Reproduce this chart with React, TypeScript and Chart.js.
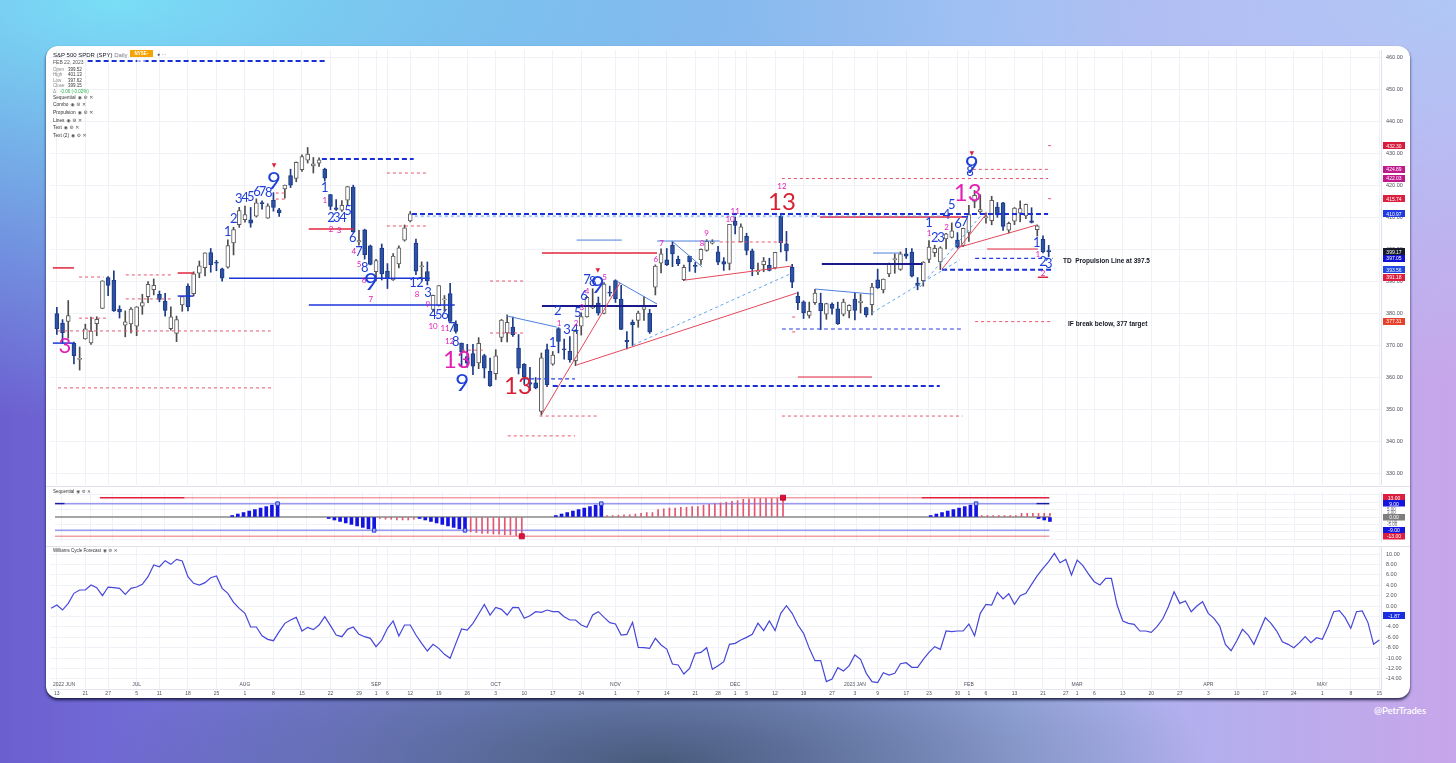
import React, { useEffect, useRef } from "react";
import { Chart, registerables } from "chart.js";

Chart.register(...registerables);

// ---------------- time axis (trading-day index, 0 = 2022-06-13) ----------------
const X_MIN = -1.2;
const X_MAX = 232.3;
const dayTickIdx = [0,5,9,14,18,23,28,33,38,43,48,53,56,58,62,67,72,77,82,87,92,98,102,107,112,116,119,121,126,131,136,140,144,149,153,158,160,163,168,173,177,179,182,187,192,197,202,207,212,217,222,227,232];
const dayTickLabels = ["13","21","27","5","11","18","25","1","8","15","22","29","1","6","12","19","26","3","10","17","24","1","7","14","21","28","1","5","12","19","27","3","9","17","23","30","1","6","13","21","27","1","6","13","20","27","3","10","17","24","1","8","15"];
const monthIdx = [0,14,33,56,77,98,119,140,160,179,202,222];
const monthLabels = ["2022 JUN","JUL","AUG","SEP","OCT","NOV","DEC","2023 JAN","FEB","MAR","APR","MAY"];

// ---------------- SPY daily OHLC ----------------
const opens = [
379.85,376.85,377.36,370.51,365.51,371.89,370.62,376.64,381.40,391.05,
390.23,381.23,376.24,376.56,375.88,382.11,385.12,387.27,385.85,383.65,
375.10,373.61,382.55,388.38,386.08,392.47,394.16,398.92,395.75,393.84,
394.36,401.89,407.58,409.15,409.12,410.30,414.37,409.66,415.25,412.22,
418.78,422.99,422.03,424.77,427.73,425.98,426.86,424.98,417.05,412.90,
412.11,415.24,419.39,402.20,406.00,401.00,392.89,400.28,393.13,390.37,
395.34,402.74,408.78,401.83,394.47,392.96,381.15,382.26,384.09,386.11,
376.58,370.58,366.41,367.36,364.38,366.69,361.80,361.08,372.40,373.76,
375.62,368.97,363.96,358.24,358.17,349.21,368.55,364.01,375.13,368.74,
368.03,365.12,375.89,378.79,381.62,383.07,379.87,386.44,390.14,384.37,
371.47,377.07,377.71,381.11,379.93,388.05,395.59,396.66,401.15,396.78,
390.46,397.74,394.64,396.63,399.55,401.83,399.09,396.05,395.49,408.77,
402.25,403.95,399.42,392.94,395.14,394.94,394.11,410.22,401.61,394.30,
385.18,383.47,379.23,383.25,383.05,379.65,382.79,381.33,379.63,380.64,
384.37,383.18,381.72,382.61,390.37,387.25,392.23,396.67,393.62,398.48,
399.01,389.36,390.10,396.72,398.88,395.95,403.13,403.66,402.80,401.13,
405.21,414.86,411.59,409.79,408.87,413.13,414.41,405.86,408.72,411.24,
410.35,408.79,406.06,403.06,399.52];
const highs = [
381.81,377.94,383.90,370.94,369.38,376.53,378.72,378.83,390.09,391.36,
393.16,382.27,380.66,381.70,381.98,385.87,389.83,390.64,386.87,386.16,
381.92,379.05,385.25,389.09,392.87,396.26,398.84,400.18,396.47,394.06,
402.88,406.80,413.03,413.41,413.00,415.68,415.09,414.15,417.62,412.75,
420.00,424.95,427.21,429.40,431.73,428.61,428.49,425.26,417.10,415.42,
415.11,419.56,419.96,405.84,406.22,401.24,396.78,401.56,395.44,398.59,
401.00,407.51,411.73,403.10,396.00,395.96,385.62,388.55,385.46,389.31,
377.57,370.62,370.21,370.22,372.30,367.11,365.91,368.55,378.00,379.46,
378.72,373.29,364.21,363.03,359.82,367.51,370.26,367.98,375.45,371.85,
372.67,374.80,380.06,385.25,387.58,385.00,389.52,388.40,390.39,388.63,
374.20,377.83,380.57,385.12,381.14,395.04,400.09,400.18,402.31,397.78,
394.95,397.81,395.82,400.07,402.93,402.91,400.81,397.30,407.68,410.00,
407.86,404.93,399.99,395.64,397.36,397.11,398.99,410.49,405.50,395.25,
386.58,383.82,383.40,387.41,386.21,383.06,383.15,383.39,384.35,382.58,
386.43,385.88,381.84,389.25,393.70,390.65,395.60,398.49,399.10,400.23,
400.12,391.08,396.04,402.65,401.15,400.70,404.92,408.16,405.13,406.53,
413.67,418.31,416.97,411.29,416.49,414.53,414.57,408.44,412.97,415.05,
414.06,412.91,407.51,404.16,401.13];
const lows = [
373.30,370.59,372.12,364.08,362.17,371.81,370.18,372.89,381.37,385.45,
380.53,378.42,372.56,373.80,372.90,379.60,383.27,385.66,383.50,378.99,
374.66,371.04,380.54,380.66,385.39,391.03,391.63,392.75,393.21,389.95,
394.05,398.15,406.77,408.40,406.82,410.00,412.44,409.60,411.83,410.22,
415.88,419.21,421.03,424.28,426.87,423.77,425.84,421.22,412.30,412.06,
411.77,413.61,405.25,401.20,396.85,395.04,390.04,390.33,387.66,390.20,
394.11,402.46,408.46,391.96,390.24,388.78,380.50,382.18,380.66,377.38,
373.69,363.29,363.03,360.72,362.60,359.70,357.04,359.21,371.00,370.95,
372.68,360.94,357.67,355.71,356.30,348.11,356.96,363.69,367.52,365.55,
364.61,363.54,373.11,378.67,381.35,379.33,379.68,385.26,383.29,374.76,
368.79,369.87,375.53,377.72,373.61,385.64,392.53,394.83,394.49,394.79,
390.14,393.04,392.66,395.15,399.31,401.54,395.11,393.30,393.48,404.75,
402.14,398.17,391.64,391.97,392.89,393.14,393.80,399.07,396.31,387.89,
381.04,378.28,378.43,382.66,374.77,378.03,379.65,376.42,379.08,378.43,
377.83,380.00,378.76,379.41,387.67,386.27,391.38,392.42,393.34,397.06,
391.28,387.26,388.38,395.72,397.64,393.56,400.03,403.44,400.28,400.77,
402.35,412.88,411.09,408.10,407.57,409.93,405.81,405.01,407.62,408.51,
409.47,408.14,404.05,398.82,397.62];
const closes = [
375.00,373.87,379.20,366.65,365.86,375.07,374.39,378.06,390.08,388.59,
380.65,380.34,377.25,381.24,381.96,383.25,388.99,388.67,384.23,380.83,
378.83,377.91,385.13,381.95,392.27,394.77,398.79,395.09,395.57,390.89,
401.04,406.07,411.99,410.77,408.06,414.45,414.17,413.47,412.99,411.35,
419.99,419.99,427.10,428.86,429.70,426.65,427.89,422.14,413.35,412.35,
413.67,419.51,405.31,402.63,398.21,395.18,396.42,392.24,390.76,397.78,
400.38,406.60,410.97,393.10,394.60,390.12,385.56,388.55,384.09,377.39,
374.22,367.95,364.31,363.38,370.53,362.79,357.18,366.61,377.76,377.09,
373.20,362.79,360.02,357.74,356.56,365.97,357.63,366.82,371.13,368.50,
365.41,374.29,378.87,384.92,382.02,379.98,389.02,386.21,384.52,374.87,
371.01,376.35,379.95,382.00,374.13,394.69,398.51,395.12,398.49,395.45,
394.24,396.03,394.59,399.90,402.42,402.33,395.91,395.23,407.68,407.38,
406.91,399.59,393.83,393.16,396.24,393.28,398.95,401.97,399.40,389.63,
383.27,380.02,380.54,386.23,380.72,382.91,381.40,376.66,383.44,382.43,
380.82,383.76,379.38,388.08,387.86,390.58,395.52,396.96,398.50,397.77,
391.49,388.64,395.88,400.63,400.20,400.35,404.75,405.68,400.59,406.48,
410.80,416.78,412.35,409.83,415.19,410.65,407.09,408.04,412.83,412.64,
413.98,408.28,407.26,399.09,399.17];

// main price axis
const mainTickVals = [330,340,350,360,370,380,390,400,410,420,430,440,450,460];
const mainBadgeVals = [432.30,424.89,422.03,415.74,410.97,399.17,397.05,393.56,391.18,377.31];
const mainBadgeColors = ["#d81b3c","#c0198c","#c0198c","#dd1f3f","#1e3ae0","#161a2a","#1010d0","#1f48e0","#dd1f3f","#e6412a"];

// TD lines: [startIdx, startPrice, endIdx, endPrice, style]
const tdLines: [number, number, number, number, string][] = [
  [5.4,458.75,47.0,458.75,"A"],
  [-0.7,394.1,3.0,394.1,"D"],
  [-0.7,370.6,3.0,370.6,"C"],
  [3.9,391.25,8.2,391.25,"B"],
  [3.9,378.4,8.6,378.4,"B"],
  [12.1,391.9,20.4,391.9,"B"],
  [12.1,384.4,20.4,384.4,"B"],
  [0.2,374.4,37.5,374.4,"B"],
  [0.2,356.6,38.1,356.6,"B"],
  [21.2,392.5,24.0,392.5,"D"],
  [21.2,385.3,24.0,385.3,"C"],
  [30.2,390.9,65.4,390.9,"C"],
  [44.2,382.5,69.8,382.5,"C"],
  [44.2,406.25,52.1,406.25,"D"],
  [46.5,428.1,62.6,428.1,"A"],
  [38.4,417.5,40.2,417.5,"B"],
  [38.4,415.6,40.2,415.6,"B"],
  [57.9,423.75,65.1,423.75,"B"],
  [57.9,407.2,65.1,407.2,"B"],
  [62.3,410.97,173.9,410.97,"A"],
  [62.8,410.3,154.9,410.3,"F"],
  [76.0,390.0,81.8,390.0,"B"],
  [76.0,373.75,81.8,373.75,"B"],
  [71.1,368.4,74.7,368.4,"B"],
  [78.9,379.1,87.7,375.6,"E"],
  [81.8,359.4,90.9,359.4,"Ab"],
  [87.0,357.2,154.9,357.2,"A"],
  [84.7,347.8,95.1,347.8,"B"],
  [79.1,341.6,90.9,341.6,"B"],
  [85.1,348.4,98.8,389.4,"H"],
  [91.2,363.75,129.8,386.25,"H"],
  [85.1,382.2,105.3,382.2,"G"],
  [85.1,398.75,105.3,398.75,"D"],
  [91.2,402.8,99.1,402.8,"E"],
  [98.2,390.0,105.3,382.8,"E"],
  [101.1,370.0,129.0,392.5,"F"],
  [105.3,402.5,116.3,402.5,"E"],
  [108.1,402.2,113.2,394.4,"E"],
  [110.2,390.3,129.0,394.7,"H"],
  [116.3,402.2,128.1,402.2,"B"],
  [127.2,422.03,173.9,422.03,"B"],
  [133.9,410.0,159.6,410.0,"D"],
  [134.2,395.3,151.9,395.3,"G"],
  [143.2,398.75,147.9,398.75,"E"],
  [133.0,387.5,143.2,385.9,"E"],
  [127.2,375.0,158.9,375.0,"Ab"],
  [130.0,360.0,143.0,360.0,"Dt"],
  [127.2,347.8,158.9,347.8,"B"],
  [129.0,378.75,130.0,378.75,"B"],
  [129.0,374.1,130.0,374.1,"B"],
  [143.0,380.0,158.4,396.6,"F"],
  [151.4,388.1,162.5,411.25,"F"],
  [161.1,397.05,174.7,397.05,"Ab"],
  [155.3,393.56,174.7,393.56,"A"],
  [161.1,377.31,174.7,377.31,"B"],
  [172.1,391.18,173.9,391.18,"D"],
  [163.2,400.0,172.1,400.0,"Dt"],
  [155.3,393.75,163.2,411.25,"H"],
  [158.4,400.6,171.9,407.5,"H"],
  [160.7,424.89,174.2,424.89,"B"],
  [173.9,432.30,174.7,432.30,"B"],
  [173.9,415.74,174.7,415.74,"B"],
];
const lineStyles: Record<string, { color: string; width: number; dash: number[] }> = {
  A: { color: "#1b2fd6", width: 2, dash: [5, 3] },
  Ab: { color: "#2b3fe0", width: 1.2, dash: [4, 3] },
  B: { color: "#e8566e", width: 1, dash: [3, 3] },
  C: { color: "#1c34d8", width: 1.5, dash: [] },
  D: { color: "#e2243c", width: 1.5, dash: [] },
  Dt: { color: "#e2243c", width: 1, dash: [] },
  E: { color: "#4d7fdc", width: 1, dash: [] },
  F: { color: "#62a2ee", width: 1, dash: [3, 3] },
  G: { color: "#1a1a8c", width: 2, dash: [] },
  H: { color: "#e3485a", width: 1, dash: [] },
};

// TD sequential labels: [idx, price, text, style]
const tdLabels: [number, number, string, string][] = [
  [1.4,369.7,"3","M2"],
  [30.0,405.3,"1","b"],[31.05,409.4,"2","b"],[31.9,415.6,"3","b"],[33.0,415.9,"4","b"],[34.0,416.25,"5","b"],
  [35.1,417.8,"6","b"],[36.1,417.8,"7","b"],[37.2,417.5,"8","b"],[38.1,421.25,"9","B"],[38.1,426.25,"▼","r"],
  [47.0,419.1,"1","b"],[48.1,409.7,"2","b"],[49.1,409.7,"3","b"],[50.2,409.7,"4","b"],[51.1,411.9,"5","b"],
  [51.9,403.4,"6","b"],[53.0,399.1,"7","b"],[54.0,394.1,"8","b"],[55.1,389.7,"9","B"],
  [47.0,415.3,"1","m"],[48.1,406.25,"2","m"],[49.5,405.9,"3","m"],[52.1,399.4,"4","m"],[53.0,395.3,"5","m"],
  [53.9,390.3,"6","m"],[55.1,384.4,"7","m"],[63.2,385.9,"8","m"],[65.1,382.8,"9","m"],[66.0,375.9,"10","m"],
  [68.1,375.3,"11","m"],[68.9,371.25,"12","m"],[70.2,365.3,"13","M"],
  [62.5,389.4,"1","b"],[63.7,389.4,"2","b"],[65.1,386.25,"3","b"],[66.0,379.4,"4","b"],[67.0,379.4,"5","b"],
  [68.1,379.4,"6","b"],[69.3,375.3,"7","b"],[70.0,370.9,"8","b"],[71.1,358.1,"9","B"],
  [80.9,357.2,"13","R"],
  [87.0,370.6,"1","b"],[87.9,380.6,"2","b"],[89.5,374.7,"3","b"],[90.9,374.7,"4","b"],[91.4,380.0,"5","b"],
  [92.5,385.3,"6","b"],[93.0,390.3,"7","b"],[94.0,389.7,"8","b"],[94.9,388.75,"9","B"],[94.9,393.4,"▼","r"],
  [88.1,376.9,"1","m"],[91.1,376.6,"2","m"],[92.1,381.9,"3","m"],[93.0,386.9,"4","m"],[96.1,391.25,"5","m"],
  [105.1,396.9,"6","m"],[106.1,401.6,"7","m"],[113.2,401.6,"8","m"],[114.0,405.0,"9","m"],[118.1,409.4,"10","m"],
  [119.0,411.9,"11","m"],[127.2,419.7,"12","m"],[127.2,414.7,"13","R"],
  [153.0,408.1,"1","b"],[154.0,403.4,"2","b"],[155.1,403.4,"3","b"],[156.1,410.6,"4","b"],[157.0,413.75,"5","b"],
  [158.1,407.8,"6","b"],[159.3,408.4,"7","b"],[160.2,424.1,"8","b"],[160.5,426.25,"9","B"],[160.5,430.0,"▼","r"],
  [153.0,405.0,"1","m"],[156.1,406.6,"2","m"],[159.8,417.5,"13","M"],
  [171.9,401.9,"1","b"],[173.0,395.9,"2","b"],[174.0,395.3,"3","b"],
  [172.1,398.4,"1","m"],[173.0,392.5,"2","m"],
];
const labelStyles: Record<string, { size: number; color: string }> = {
  b: { size: 13, color: "#1d3fd8" },
  B: { size: 24, color: "#1d3fd8" },
  m: { size: 8, color: "#e41fb5" },
  M: { size: 24, color: "#e41fb5" },
  M2: { size: 22, color: "#e41fb5" },
  R: { size: 24, color: "#d81f33" },
  r: { size: 6, color: "#e0203a" },
};
const notes: [number, number, string][] = [
  [176.5, 396.25, "TD  Propulsion Line at 397.5"],
  [177.4, 376.56, "IF break below, 377 target"],
];

// ---------------- Sequential pane ----------------
const seqSetupIdx = [30,31,32,33,34,35,36,37,38, 47,48,49,50,51,52,53,54,55, 63,64,65,66,67,68,69,70,71, 87,88,89,90,91,92,93,94,95, 153,154,155,156,157,158,159,160,161, 172,173,174];
const seqSetupVal = [1,2,3,4,5,6,7,8,9, -1,-2,-3,-4,-5,-6,-7,-8,-9, -1,-2,-3,-4,-5,-6,-7,-8,-9, 1,2,3,4,5,6,7,8,9, 1,2,3,4,5,6,7,8,9, -1,-2,-3];
const seqCountIdx = [56,57,58,59,60,61,62, 72,73,74,75,76,77,78,79,80,81,
  96,97,98,99,100,101,102,103,104,105,106,107,108,109,110,111,112,113,114,115,116,117,118,119,120,121,122,123,124,125,126,127,
  162,163,164,165,166,167,168,169,170,171,172,173,174];
const seqCountVal = [-1,-1.5,-1.5,-2,-2,-2,-1.5, -10,-10.5,-11,-11,-11.5,-11.5,-12,-12,-12.5,-13,
  1,1,1.2,1.5,1.5,2,2.5,3,3,5,5.5,6,6,6.5,6.5,7,7,8,8.5,9,9.5,10,10.5,11,12,12,12.5,12.5,12.5,12.5,12.5,13,
  1,1,1,1,1,1,1,2.5,2.5,2.5,2.5,2.5,2.5];
const seqNineIdx = [38,55,71,95,161];
const seqNineVal = [9,-9,-9,9,9];
const seqThirteenIdx = [81,127];
const seqThirteenVal = [-13,13];
const seqLevels: [number, number, number, string][] = [
  [6.7,21.6,13,"redStrong"],[21.6,151.4,13,"redSoft"],[151.4,173.9,13,"redStrong"],
  [-1.2,0.5,9,"blueStrong"],[0.5,171.6,9,"blueSoft"],[171.6,173.9,9,"blueStrong"],
  [-1.2,173.9,0,"gray"],[-1.2,173.9,-9,"blueSoft"],[-1.2,173.9,-13,"redSoft"],
];
const seqLevelColors: Record<string, string> = {
  redStrong: "#e0203c", redSoft: "rgba(224,40,60,0.45)", blueStrong: "#1a1aa8",
  blueSoft: "rgba(70,70,230,0.55)", gray: "#8a8a8a",
};
const seqBadgeVals = [13, 9, 0, -9, -13];
const seqBadgeColors = ["#dd1f3f", "#1515e0", "#7e7e7e", "#1515e0", "#dd1f3f"];
const seqSmallVals = [5, 3, -3, -5];

// ---------------- Williams Cycle Forecast ----------------
const wcfStartIdx = -1;
const wcfVals = [
-0.45,0.19,-0.77,0.51,2.44,3.08,3.08,4.04,3.53,1.99,
3.65,3.53,3.40,2.24,3.40,3.65,4.17,5.64,7.88,7.56,
8.72,8.01,8.97,8.65,5.64,4.36,4.04,4.49,5.45,5.77,
3.40,2.44,0.71,-0.45,-1.41,-4.04,-4.04,-5.71,-6.41,-6.67,
-4.94,-3.33,-2.69,-2.18,-4.81,-4.10,-4.55,-3.65,-2.05,-3.78,
-5.58,-5.90,-4.49,-4.04,-5.45,-5.90,-6.22,-7.82,-6.54,-4.29,
-2.88,-5.77,-3.65,-3.65,-5.58,-7.18,-8.65,-7.37,-8.14,-9.29,
-10.06,-7.18,-4.42,-4.62,-3.33,-1.54,0.32,-1.73,-0.26,-0.64,
-1.73,-0.26,-0.32,-2.37,-1.86,-1.09,-1.22,-0.77,-1.09,-1.09,
-2.05,-2.69,-2.69,-3.65,-4.10,-1.73,-1.09,-2.18,-3.21,-3.46,
-5.58,-5.45,-3.14,-7.95,-8.01,-8.14,-6.22,-7.50,-8.27,-11.15,
-11.35,-13.08,-11.99,-9.10,-8.91,-8.01,-12.18,-11.47,-10.71,-7.37,
-7.18,
-6.54,-6.03,-5.45,-3.30,-4.74,-2.88,-4.74,-1.41,0.06,-1.41,
-3.65,-5.26,-8.14,-10.51,-10.51,-14.55,-14.04,-11.86,-12.50,-11.47,
-9.42,-10.26,-12.95,-14.55,-14.74,-12.82,-13.27,-12.95,-11.09,-10.90,
-11.79,-11.79,-10.26,-8.91,-7.82,-8.33,-4.81,-4.94,-4.81,-4.81,
-3.46,-5.71,-1.41,0.32,0.19,2.63,1.35,2.37,0.32,1.99,
2.44,4.17,5.83,7.24,8.53,10.13,8.33,8.97,5.96,8.85,
7.76,6.15,4.68,4.04,5.32,5.32,0.19,-2.88,-3.33,-3.53,
-4.81,-4.81,-5.06,-3.97,-2.50,-0.13,2.76,0.51,0.96,-1.09,
0.00,0.83,-1.41,-2.37,-3.85,-7.37,-8.59,-6.67,-4.49,-5.58,
-7.37,-4.81,-2.24,-3.33,-4.81,-6.86,-7.37,-8.01,-7.05,-5.90,
-7.05,-6.09,-6.41,-3.97,-1.09,-0.90,-2.24,-4.29,-1.09,-0.96,
-3.14,-7.37,-6.54];
const wcfTickVals = [10,8,6,4,2,0,-2,-4,-6,-8,-10,-12,-14];
const wcfBadgeVal = -1.87;

// ---------------- helpers ----------------
const AXIS_W = 29;
const LABEL_FONT = '5.5px "Liberation Sans", Arial, sans-serif';

function xScale(extra: any = {}) {
  return {
    type: "linear", min: X_MIN, max: X_MAX, offset: false,
    grid: { color: "#eef1f6", drawTicks: false, offset: false },
    border: { display: false },
    ticks: { display: false },
    afterBuildTicks: (s: any) => { s.ticks = dayTickIdx.map((v) => ({ value: v })); },
    afterFit: (s: any) => { s.height = 0; },
    ...extra,
  };
}
function yScale(min: number, max: number, step: number) {
  return {
    type: "linear", position: "right", min, max,
    grid: { color: "#f0f2f7", drawTicks: false },
    border: { color: "#dfe2ea" },
    ticks: { display: false, stepSize: step, includeBounds: false },
    afterFit: (s: any) => { s.width = AXIS_W; },
  };
}
function badge(ctx: CanvasRenderingContext2D, x: number, cy: number, w: number, h: number, bg: string, text: string) {
  ctx.fillStyle = bg;
  ctx.fillRect(x, Math.round(cy - h / 2), w, h);
  ctx.fillStyle = "#ffffff";
  ctx.font = '5px "Liberation Sans", Arial, sans-serif';
  ctx.textAlign = "center";
  ctx.textBaseline = "middle";
  ctx.fillText(text, x + w / 2, cy + 0.5);
}

const mainOverlay = {
  id: "mainOverlay",
  afterDatasetsDraw(chart: any) {
    const { ctx, chartArea, scales } = chart;
    const x = scales.x, y = scales.y;
    ctx.save();
    ctx.beginPath();
    ctx.rect(chartArea.left, chartArea.top, chartArea.right - chartArea.left, chartArea.bottom - chartArea.top);
    ctx.clip();
    ctx.textAlign = "center";
    ctx.textBaseline = "middle";
    for (const [i, p, t, k] of tdLabels) {
      const st = labelStyles[k];
      ctx.font = `${st.size}px "Lato", "DejaVu Sans", sans-serif`;
      ctx.fillStyle = st.color;
      ctx.fillText(t, x.getPixelForValue(i), y.getPixelForValue(p));
    }
    ctx.textAlign = "left";
    ctx.font = 'bold 6.5px "Liberation Sans", Arial, sans-serif';
    ctx.fillStyle = "#131722";
    for (const [i, p, t] of notes) ctx.fillText(t, x.getPixelForValue(i), y.getPixelForValue(p));
    ctx.restore();
  },
  afterDraw(chart: any) {
    const { ctx, chartArea, scales } = chart;
    const y = scales.y;
    ctx.save();
    ctx.font = LABEL_FONT;
    ctx.fillStyle = "#50535e";
    ctx.textAlign = "left";
    ctx.textBaseline = "middle";
    mainTickVals.forEach((v) => ctx.fillText(v.toFixed(2), chartArea.right + 5, y.getPixelForValue(v)));
    mainBadgeVals.forEach((v, k) => badge(ctx, chartArea.right + 2, y.getPixelForValue(v), 22, 7, mainBadgeColors[k], v.toFixed(2)));
    ctx.restore();
  },
};

const seqOverlay = {
  id: "seqOverlay",
  afterDraw(chart: any) {
    const { ctx, chartArea, scales } = chart;
    const y = scales.y;
    ctx.save();
    ctx.font = '4.5px "Liberation Sans", Arial, sans-serif';
    ctx.fillStyle = "#6a6d78";
    ctx.textAlign = "left";
    ctx.textBaseline = "middle";
    seqSmallVals.forEach((v) => ctx.fillText(v.toFixed(2), chartArea.right + 6, y.getPixelForValue(v)));
    seqBadgeVals.forEach((v, k) => badge(ctx, chartArea.right + 2, y.getPixelForValue(v), 22, 6.5, seqBadgeColors[k], v.toFixed(2)));
    ctx.restore();
  },
};

const wcfOverlay = {
  id: "wcfOverlay",
  afterDraw(chart: any) {
    const { ctx, chartArea, scales } = chart;
    const x = scales.x, y = scales.y;
    ctx.save();
    ctx.font = LABEL_FONT;
    ctx.fillStyle = "#50535e";
    ctx.textAlign = "left";
    ctx.textBaseline = "middle";
    wcfTickVals.forEach((v) => ctx.fillText(v.toFixed(2), chartArea.right + 5, y.getPixelForValue(v)));
    badge(ctx, chartArea.right + 2, y.getPixelForValue(wcfBadgeVal), 22, 7, "#1a2ee0", wcfBadgeVal.toFixed(2));
    ctx.font = '5px "Liberation Sans", Arial, sans-serif';
    ctx.fillStyle = "#50535e";
    monthIdx.forEach((m, k) => {
      ctx.textAlign = k === 0 ? "left" : "center";
      const px = k === 0 ? chartArea.left + 3 : x.getPixelForValue(m);
      ctx.fillText(monthLabels[k], px, chartArea.bottom - 4);
    });
    ctx.textAlign = "center";
    dayTickIdx.forEach((d, k) => ctx.fillText(dayTickLabels[k], x.getPixelForValue(d), chartArea.bottom + 5));
    ctx.restore();
  },
};

const baseOpts = {
  responsive: false,
  animation: false,
  devicePixelRatio: 1,
  events: [],
  plugins: { legend: { display: false }, tooltip: { enabled: false } },
};

function mainConfig(): any {
  const idxs = closes.map((_, i) => i);
  const up = (i: number) => closes[i] >= opens[i];
  const lineSets = tdLines.map(([i0, p0, i1, p1, s]) => ({
    type: "line",
    data: [{ x: i0, y: p0 }, { x: i1, y: p1 }],
    borderColor: lineStyles[s].color,
    borderWidth: lineStyles[s].width,
    borderDash: lineStyles[s].dash,
    pointRadius: 0,
    fill: false,
    tension: 0,
    order: 1,
  }));
  return {
    type: "bar",
    data: {
      datasets: [
        {
          type: "bar",
          data: idxs.map((i) => ({ x: i, y: [lows[i], highs[i]] })),
          backgroundColor: idxs.map((i) => (up(i) ? "#4d4d4d" : "#1c3a86")),
          barThickness: 1,
          grouped: false,
          order: 20,
        },
        {
          type: "bar",
          data: idxs.map((i) => ({ x: i, y: [opens[i], closes[i]] })),
          backgroundColor: idxs.map((i) => (up(i) ? "#ffffff" : "#2d51a3")),
          borderColor: idxs.map((i) => (up(i) ? "#5c5c5c" : "#1c3a86")),
          borderWidth: 1,
          borderSkipped: false,
          barThickness: 4,
          minBarLength: 1,
          grouped: false,
          order: 19,
        },
        ...lineSets,
      ],
    },
    options: {
      ...baseOpts,
      layout: { padding: 0 },
      scales: { x: xScale(), y: yScale(326.25, 462.2, 10) },
    },
    plugins: [mainOverlay],
  };
}

function seqConfig(): any {
  const levelSets = seqLevels.map(([i0, i1, v, c]) => ({
    type: "line",
    data: [{ x: i0, y: v }, { x: i1, y: v }],
    borderColor: seqLevelColors[c],
    borderWidth: 1.5,
    pointRadius: 0,
    fill: false,
    order: 10,
  }));
  return {
    type: "bar",
    data: {
      datasets: [
        ...levelSets,
        {
          type: "bar",
          data: seqCountIdx.map((i, k) => ({ x: i, y: seqCountVal[k] })),
          backgroundColor: "#e2566e",
          barThickness: 1,
          grouped: false,
          order: 6,
        },
        {
          type: "bar",
          data: seqSetupIdx.map((i, k) => ({ x: i, y: seqSetupVal[k] })),
          backgroundColor: "#1414e0",
          barThickness: 3,
          grouped: false,
          order: 5,
        },
        {
          type: "line",
          data: seqNineIdx.map((i, k) => ({ x: i, y: seqNineVal[k] })),
          showLine: false,
          pointStyle: "rect",
          pointRadius: 2.5,
          pointBackgroundColor: "#aab6f4",
          pointBorderColor: "#2a3ad0",
          pointBorderWidth: 1,
          order: 1,
        },
        {
          type: "line",
          data: seqThirteenIdx.map((i, k) => ({ x: i, y: seqThirteenVal[k] })),
          showLine: false,
          pointStyle: "rect",
          pointRadius: 3.5,
          pointBackgroundColor: "#e0103a",
          pointBorderColor: "#c00a30",
          pointBorderWidth: 1,
          order: 1,
        },
      ],
    },
    options: {
      ...baseOpts,
      layout: { padding: 0 },
      scales: { x: xScale(), y: yScale(-16.85, 16.85, 5) },
    },
    plugins: [seqOverlay],
  };
}

function wcfConfig(): any {
  return {
    type: "line",
    data: {
      datasets: [
        {
          data: wcfVals.map((v, k) => ({ x: wcfStartIdx + k, y: v })),
          borderColor: "#4646d8",
          borderWidth: 1.2,
          pointRadius: 0,
          fill: false,
          tension: 0,
        },
      ],
    },
    options: {
      ...baseOpts,
      layout: { padding: { left: 0, right: 0, top: 0, bottom: 9 } },
      scales: {
        x: xScale({ border: { display: true, color: "#e3e6ee" } }),
        y: yScale(-15.96, 11.35, 2),
      },
    },
    plugins: [wcfOverlay],
  };
}

// ---------------- DOM helpers ----------------
const uiFont = '"Liberation Sans", Arial, sans-serif';
function T(props: { l: number; t: number; s: number; c?: string; w?: number | string; children: any; f?: string }) {
  return (
    <div
      style={{
        position: "absolute", left: props.l, top: props.t, fontSize: props.s, lineHeight: `${props.s + 1}px`,
        color: props.c || "#131722", fontWeight: props.w || 400, whiteSpace: "nowrap",
        fontFamily: props.f || uiFont, zIndex: 3,
      }}
    >
      {props.children}
    </div>
  );
}
const icons = <span style={{ fontFamily: '"DejaVu Sans", sans-serif', color: "#555", marginLeft: 2 }}>◉ ⚙ ✕</span>;

const ohlcRows: [string, string][] = [
  ["Open", "399.52"], ["High", "401.13"], ["Low", "397.62"], ["Close", "399.15"],
];
const legendRows = ["Sequential", "Combo", "Propulsion", "Lines", "Text", "Text (2)"];

export default function App() {
  const mainRef = useRef<HTMLCanvasElement>(null);
  const seqRef = useRef<HTMLCanvasElement>(null);
  const wcfRef = useRef<HTMLCanvasElement>(null);

  useEffect(() => {
    const charts: any[] = [];
    if (mainRef.current) charts.push(new Chart(mainRef.current, mainConfig()));
    if (seqRef.current) charts.push(new Chart(seqRef.current, seqConfig()));
    if (wcfRef.current) charts.push(new Chart(wcfRef.current, wcfConfig()));
    return () => charts.forEach((c) => c.destroy());
  }, []);

  return (
    <div
      style={{
        position: "fixed", left: 0, top: 0, width: 1456, height: 763, overflow: "hidden",
        background:
          "radial-gradient(ellipse 38% 22% at 45% 100%, rgba(70,88,118,0.95) 0%, rgba(70,88,118,0) 100%)," +
          "radial-gradient(ellipse 70% 55% at 8% 0%, rgba(122,222,246,1) 0%, rgba(122,222,246,0) 100%)," +
          "radial-gradient(ellipse 50% 50% at 100% 0%, rgba(176,200,246,1) 0%, rgba(176,200,246,0) 100%)," +
          "linear-gradient(90deg, #6c5ed0 0%, #8498e6 40%, #a5b6f0 70%, #c7a6ea 100%)",
        fontFamily: uiFont,
      }}
    >
      <div
        style={{
          position: "absolute", left: 46, top: 46, width: 1364, height: 652, background: "#ffffff",
          borderRadius: 12, overflow: "hidden", boxShadow: "0 2px 3px rgba(12,14,50,0.85)",
        }}
      >
        <canvas ref={mainRef} width={1360} height={435} style={{ position: "absolute", left: 4, top: 4, width: 1360, height: 435 }} />
        <div style={{ position: "absolute", left: 0, top: 440, width: 1364, height: 1, background: "#dfe2ea" }} />
        <canvas ref={seqRef} width={1360} height={60} style={{ position: "absolute", left: 4, top: 441, width: 1360, height: 60 }} />
        <div style={{ position: "absolute", left: 0, top: 500, width: 1364, height: 1, background: "#dfe2ea" }} />
        <canvas ref={wcfRef} width={1360} height={151} style={{ position: "absolute", left: 4, top: 501, width: 1360, height: 151 }} />

        {/* header */}
        <T l={7} t={5.5} s={6}>
          S&amp;P 500 SPDR (SPY) <span style={{ color: "#787b86" }}>Daily</span>
        </T>
        <div style={{ position: "absolute", left: 84, top: 4, width: 23, height: 7, background: "#f5a300", color: "#fff", fontSize: 4.5, lineHeight: "7px", textAlign: "center", fontWeight: 700, zIndex: 3, fontFamily: uiFont }}>
          NYSE-MKT
        </div>
        <T l={111} t={5} s={5} c="#555">● ···</T>
        <T l={7} t={12.5} s={5} c="#555">FEB 22, 2023</T>
        {ohlcRows.map(([k, v], n) => (
          <React.Fragment key={k}>
            <T l={7} t={20.5 + n * 5.6} s={4.5} c="#888">{k}</T>
            <T l={22} t={20.5 + n * 5.6} s={4.5} c="#333">{v}</T>
          </React.Fragment>
        ))}
        <T l={7} t={42.5} s={4.5} c="#888">Δ</T>
        <T l={14} t={42.5} s={4.5} c="#26b34a">-0.06 (-0.02%)</T>
        {legendRows.map((r, n) => (
          <T key={r} l={7} t={48.5 + n * 7.7} s={4.8} c="#333">
            {r}
            {icons}
          </T>
        ))}
        <T l={7} t={443} s={4.5} c="#333">Sequential{icons}</T>
        <T l={7} t={502} s={4.5} c="#333">Williams Cycle Forecast{icons}</T>
      </div>
      <div
        style={{
          position: "absolute", left: 1360, top: 705, width: 80, textAlign: "center", color: "#ffffff",
          fontSize: 9.5, fontFamily: '"Lato", "Liberation Sans", sans-serif', fontWeight: 600,
        }}
      >
        @PetrTrades
      </div>
    </div>
  );
}
